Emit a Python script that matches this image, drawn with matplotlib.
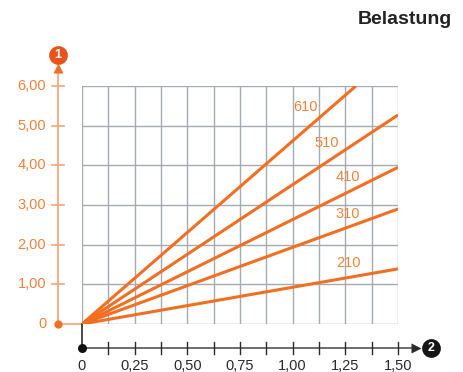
import matplotlib.pyplot as plt
import numpy as np

plt.rcParams['font.family'] = ['Liberation Sans', 'DejaVu Sans']

# data
loads = ['210', '310', '410', '510', '610']
x_end = [1.50, 1.50, 1.50, 1.50, 1.30]
y_end = [1.39, 2.90, 3.95, 5.27, 6.00]
# label positions (data units)
lab_x = [1.263, 1.263, 1.263, 1.163, 1.059]
lab_y = [1.54, 2.77, 3.70, 4.56, 5.47]

x_ticks = [0.25, 0.50, 0.75, 1.00, 1.25, 1.50]
x_ticklabels = ['0,25', '0,50', '0,75', '1,00', '1,25', '1,50']
y_ticks = [1, 2, 3, 4, 5, 6]
y_ticklabels = ['1,00', '2,00', '3,00', '4,00', '5,00', '6,00']

orange = '#f26f22'
orange_txt = '#f0823c'
orange_ax = '#f6a675'
grid_c = '#a4abb2'
dark = '#2a2a2a'
fs = 10.5

fig = plt.figure(figsize=(4.64, 3.72), dpi=100)
ax = fig.add_axes([82/464, 48/372, 316/464, 238/372])
ax.set_xlim(0, 1.5)
ax.set_ylim(0, 6)

# grid
for gx in np.arange(0, 1.501, 0.125):
    ax.axvline(gx, color=grid_c, lw=1.0, zorder=1)
for gy in range(0, 7):
    ax.axhline(gy, color=grid_c, lw=1.0, zorder=1)
for s in ax.spines.values():
    s.set_visible(False)
ax.set_xticks([])
ax.set_yticks([])

# load lines
for i in range(len(loads)):
    ax.plot([0, x_end[i]], [0, y_end[i]], color=orange, lw=2.2,
            solid_capstyle='butt', zorder=3)
    ax.text(lab_x[i], lab_y[i], loads[i], color=orange_txt, fontsize=fs,
            ha='center', va='center', zorder=4)

# orange y axis
xo = -0.114
ax.plot([xo, xo], [0, 6.4], color=orange_ax, lw=1.2, clip_on=False, zorder=2)
ax.plot([xo, 0], [0, 0], color=orange_ax, lw=1.2, clip_on=False, zorder=2)
ax.plot([xo], [6.45], marker='^', ms=7, color=orange, mec='none', clip_on=False)
ax.plot([xo], [0], marker='o', ms=6, color=orange, mec='none', clip_on=False)
for t, lab in zip(y_ticks, y_ticklabels):
    ax.plot([xo - 0.027, xo + 0.027], [t, t], color=orange_ax, lw=1.2, clip_on=False)
    ax.text(-0.17, t, lab, color=orange_txt, fontsize=fs, ha='right', va='center')
ax.text(-0.17, 0, '0', color=orange_txt, fontsize=fs, ha='right', va='center')
ax.plot([xo], [6.78], marker='o', ms=13.5, color='#e8541c', mec='none', clip_on=False)
ax.text(xo, 6.78, '1', color='white', fontsize=9, fontweight='bold',
        ha='center', va='center')

# black x axis
yb = -0.597
ax.plot([0, 0], [yb, 0], color=dark, lw=1.2, clip_on=False, zorder=2)
ax.plot([0, 1.58], [yb, yb], color='#555555', lw=1.2, clip_on=False, zorder=2)
ax.plot([1.585], [yb], marker='>', ms=7, color=dark, mec='none', clip_on=False)
ax.plot([0], [yb], marker='o', ms=6.5, color='#111111', mec='none', clip_on=False)
for tx in np.arange(0.125, 1.501, 0.125):
    ax.plot([tx, tx], [yb - 0.15, yb + 0.15], color=dark, lw=1.0, clip_on=False)
for t, lab in zip(x_ticks, x_ticklabels):
    ax.text(t, -1.07, lab, color=dark, fontsize=fs, ha='center', va='center')
ax.text(0, -1.07, '0', color=dark, fontsize=fs, ha='center', va='center')
ax.plot([1.655], [yb], marker='o', ms=13.5, color='#151515', mec='none', clip_on=False)
ax.text(1.655, yb, '2', color='white', fontsize=9, fontweight='bold',
        ha='center', va='center')

fig.text(452/464, 1 - 20/372, 'Belastung', fontsize=14, fontweight='bold',
         color='#222222', ha='right', va='center')

fig.savefig('out.png', dpi=100)
